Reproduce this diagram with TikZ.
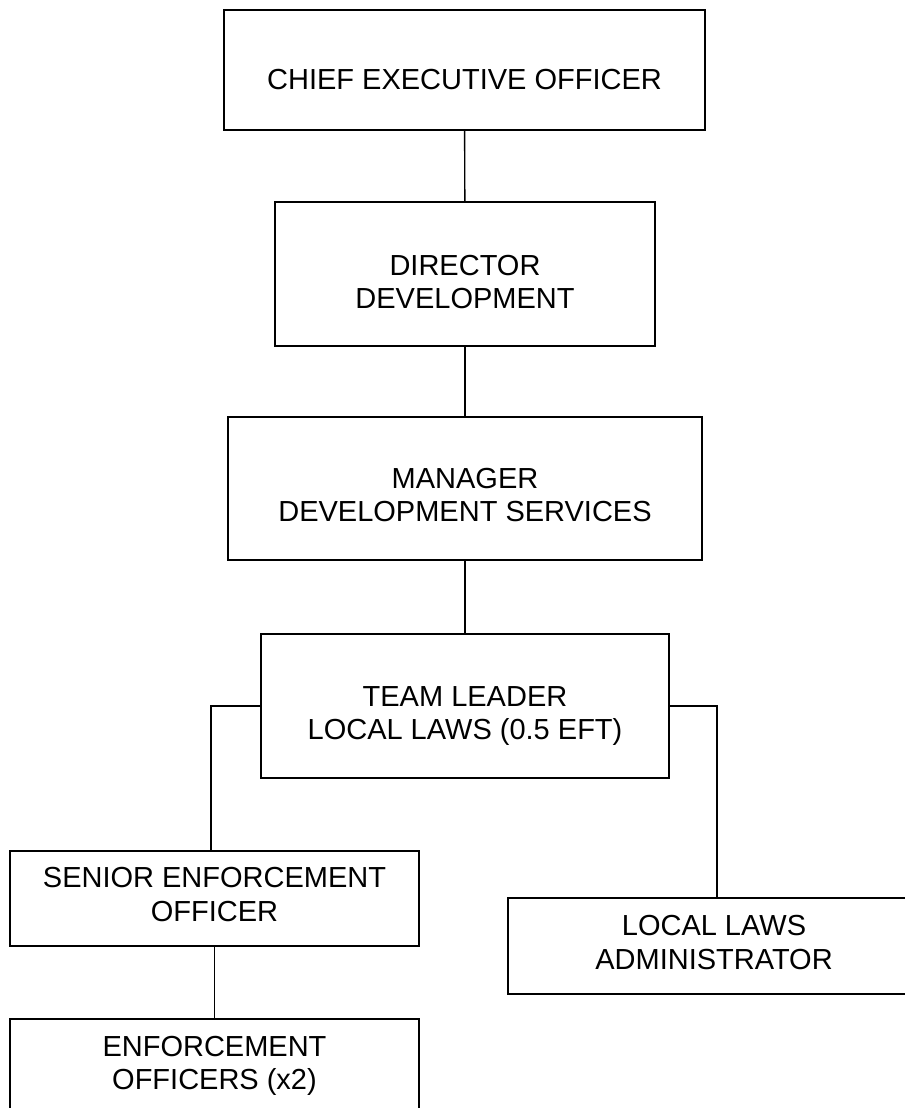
\documentclass[tikz,border=0pt]{standalone}
\usepackage{fontspec}
\setmainfont{Liberation Sans}
\usepackage{tikz}
\usetikzlibrary{positioning, calc}

\begin{document}
\begin{tikzpicture}[
  font=\fontsize{16.5}{19}\selectfont,
  poste/.style={
    draw=black, line width=0.8pt, align=center,
    inner sep=0pt, fill=white, text=black
  },
  intitule/.style={align=center, inner sep=0pt, text=black},
  lien/.style={line width=0.8pt, draw=black}
]
  \useasboundingbox (0,0) rectangle (18.1,-22.16);

  % Direction
  \node[poste, minimum width=9.62cm, minimum height=2.40cm,
    label={[intitule, yshift=-0.20cm]center:CHIEF EXECUTIVE OFFICER}] (ceo) at (9.29,-1.40) {};
  \node[poste, minimum width=7.60cm, minimum height=2.88cm,
    label={[intitule, yshift=-0.16cm]center:DIRECTOR\\DEVELOPMENT}] (dir) at (9.30,-5.48) {};
  \node[poste, minimum width=9.48cm, minimum height=2.86cm,
    label={[intitule, yshift=-0.13cm]center:MANAGER\\DEVELOPMENT SERVICES}] (mgr) at (9.30,-9.77) {};
  \node[poste, minimum width=8.16cm, minimum height=2.88cm,
    label={[intitule, yshift=-0.20cm]center:TEAM LEADER\\LOCAL LAWS (0.5 EFT)}] (team) at (9.30,-14.12) {};

  % Equipe
  \node[poste, minimum width=8.18cm, minimum height=1.90cm,
    label={[intitule, yshift=0.08cm]center:SENIOR ENFORCEMENT\\OFFICER}] (senior) at (4.29,-17.97) {};
  \node[poste, minimum width=8.18cm, minimum height=1.88cm,
    label={[intitule]center:ENFORCEMENT\\OFFICERS (x2)}] (enf) at (4.29,-21.32) {};
  \node[poste, minimum width=8.24cm, minimum height=1.92cm,
    label={[intitule, yshift=0.07cm]center:LOCAL LAWS\\ADMINISTRATOR}] (admin) at (14.28,-18.92) {};

  \draw[lien] (ceo) -- (dir);
  \draw[lien] (dir) -- (mgr);
  \draw[lien] (mgr) -- (team);
  \draw[lien] (team.west) -| ([xshift=-0.07cm]senior.north);
  \draw[lien] (team.east) -| ([xshift=0.06cm]admin.north);
  \draw[lien] (senior) -- (enf);

\end{tikzpicture}
\end{document}
